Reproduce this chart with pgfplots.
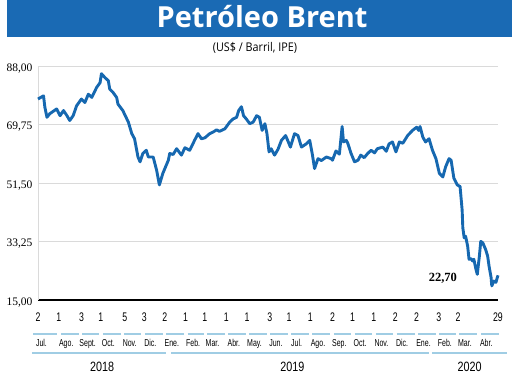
\documentclass[border=0pt]{standalone}
\usepackage{pgfplots}
\pgfplotsset{compat=1.18}
\usepackage{fontspec}
\setmainfont{Liberation Serif}
\newfontfamily\titlefont{Open Sans}
\newfontfamily\subfont[FakeStretch=0.9]{Open Sans}
\newfontfamily\cond[FakeStretch=0.7]{Liberation Sans}
\newfontfamily\condy[FakeStretch=0.8]{Liberation Sans}
\definecolor{brentblue}{RGB}{22,104,176}
\definecolor{titleblue}{RGB}{26,106,180}
\definecolor{segblue}{RGB}{160,205,228}
\definecolor{gridgray}{RGB}{218,218,218}
\begin{document}
\begin{tikzpicture}
\fill[titleblue] (-31pt,263pt) rectangle (474pt,300pt);
\node[anchor=base, text=white, font=\titlefont\bfseries\fontsize{29}{29}\selectfont, inner sep=0pt] at (224pt,272pt) {Petróleo Brent};
\node[anchor=center, font=\subfont\fontsize{12}{12}\selectfont, inner sep=0pt] at (217pt,252pt) {(US\$ / Barril, IPE)};
\begin{axis}[
  name=ax, at={(0pt,0pt)}, anchor=south west,
  scale only axis, width=460pt, height=234pt,
  xmin=0, xmax=667, ymin=15, ymax=88,
  axis x line*=bottom, axis y line*=left,
  x axis line style={line width=1.4pt, black, -},
  y axis line style={gridgray, line width=0.7pt, -},
  ymajorgrids, grid style={gridgray, line width=0.7pt},
  major tick length=0pt,
  ytick={15,33.25,51.5,69.75,88},
  yticklabels={{15,00},{33,25},{51,50},{69,75},{88,00}},
  yticklabel style={font=\fontsize{11.5}{11.5}\selectfont, anchor=east, xshift=-2pt, yshift=-2.5pt},
  xtick={0,30,63,91,126,154,184,214,242,273,303,336,364,395,427,456,487,518,549,581,609,667},
  xticklabels={2,1,3,1,5,3,2,1,1,1,1,3,1,1,2,1,1,2,2,3,2,29},
  xticklabel style={font=\cond\fontsize{12.5}{12.5}\selectfont, anchor=base, yshift=-22pt},
  clip=false,
]
\addplot[brentblue, line width=2.9pt, line join=round] coordinates {
(0,77.7) (8,78.7) (10,75.1) (13,72.0) (17,73.1) (27,74.6) (32,72.5) (37,74.1) (42,72.5) (46,71.0) (51,72.5) (56,75.6) (63,77.7) (68,76.6) (73,79.2) (78,78.2) (85,81.3) (90,82.8) (92,85.6) (97,84.4) (102,83.4) (104,80.8) (109,79.7) (114,78.2) (116,76.1) (123,74.1) (131,70.5) (136,66.9) (140,65.3) (145,59.6) (148,58.1) (152,60.7) (157,61.7) (160,59.6) (167,59.6) (172,55.5) (176,50.9) (181,54.5) (189,58.6) (191,60.7) (196,60.4) (201,62.2) (208,60.2) (213,62.5) (220,61.7) (227,64.8) (232,66.9) (237,65.3) (242,65.6) (249,66.9) (254,67.4) (259,68.1) (263,67.6) (271,68.4) (278,70.5) (283,71.5) (288,72.0) (291,74.1) (295,75.3) (298,72.5) (302,71.5) (307,70.0) (312,70.5) (317,72.5) (321,72.0) (325,67.9) (329,70.0) (332,66.9) (335,61.2) (338,62.2) (343,60.2) (348,62.0) (353,64.8) (359,66.3) (362,64.8) (366,62.7) (372,66.9) (377,66.3) (382,62.7) (389,63.7) (394,64.8) (398,60.2) (401,56.0) (406,59.1) (411,58.5) (418,59.6) (425,59.1) (427,58.6) (432,61.5) (437,60.5) (441,69.1) (443,64.3) (447,64.8) (449,64.0) (454,60.7) (459,58.1) (464,58.6) (468,60.2) (473,59.4) (478,60.7) (483,61.7) (488,60.9) (492,62.2) (500,62.7) (505,61.4) (509,63.7) (514,64.3) (519,61.2) (524,64.3) (529,63.9) (536,66.3) (543,67.9) (549,68.9) (552,67.9) (554,69.1) (558,65.8) (562,64.3) (567,65.3) (572,61.7) (577,59.1) (582,54.5) (587,53.4) (591,56.5) (596,59.1) (599,58.6) (603,53.0) (608,50.9) (612,50.4) (615,43.1) (616,37.5) (618,34.4) (620,34.9) (623,31.8) (625,27.7) (628,27.9) (630,27.2) (632,27.7) (635,24.6) (637,23.0) (640,28.7) (642,33.3) (645,32.8) (649,30.8) (652,28.7) (654,25.6) (657,22.0) (658,19.4) (661,20.9) (664,20.5) (666,22.0) (667,22.7)
};
\node[font=\bfseries\fontsize{12.5}{12.5}\selectfont, anchor=center, inner sep=0pt] at (axis cs:587,21.9) {22,70};
\end{axis}
\begin{scope}[x=0.689655pt, y=1pt]
\foreach \a/\b in {-7/28, 33/59, 64/89, 94/120, 125/150, 155/181, 186/212, 217/240, 245/271, 276/301, 306/332, 337/362, 367/393, 398/424, 429/454, 459/485, 490/515, 520/546, 551/577, 582/606, 611/637, 642/668} {
  \draw[segblue, line width=1.1pt] (\a,-34) -- (\b,-34);
}
\foreach \d/\m in {5/Jul., 41/Ago., 72/Sept., 102/Oct., 133/Nov., 163/Dic., 194/Ene., 225/Feb., 253/Mar., 284/Abr., 314/May., 345/Jun., 375/Jul., 406/Ago., 437/Sep., 467/Oct., 498/Nov., 528/Dic., 559/Ene., 590/Feb., 619/Mar., 650/Abr.} {
  \node[font=\cond\fontsize{10}{10}\selectfont, anchor=base, inner sep=0pt] at (\d,-47) {\m};
}
\foreach \a/\b in {-9/186, 193/567, 571/680} {
  \draw[segblue, line width=1.1pt] (\a,-53) -- (\b,-53);
}
\foreach \d/\y in {93/2018, 369/2019, 626/2020} {
  \node[font=\condy\fontsize{13.5}{13.5}\selectfont, anchor=base, inner sep=0pt] at (\d,-72) {\y};
}
\end{scope}
\pgfresetboundingbox
\path (-38pt,-77pt) rectangle (482pt,300pt);
\end{tikzpicture}
\end{document}
